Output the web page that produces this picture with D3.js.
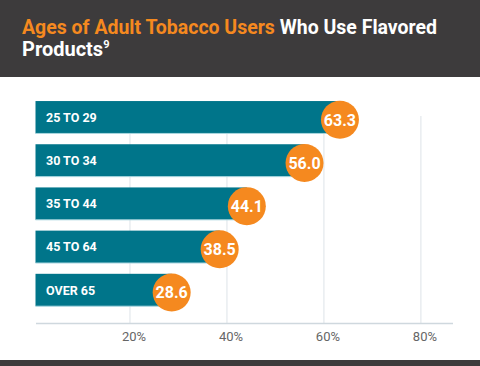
<!DOCTYPE html>
<html><head><meta charset="utf-8">
<script src="https://cdn.jsdelivr.net/npm/d3@7/dist/d3.min.js"></script>
<style>html,body{margin:0;padding:0;background:#fff;}svg{display:block;}</style>
</head><body>
<script>
const categories = ["25 TO 29", "30 TO 34", "35 TO 44", "45 TO 64", "OVER 65"];
const values = [63.3, 56.0, 44.1, 38.5, 28.6];
const tickValues = [20, 40, 60, 80];
const tickLabels = ["20%", "40%", "60%", "80%"];

const W = 480, H = 366;
const svg = d3.select("body").append("svg").attr("width", W).attr("height", H);
const font = "Roboto, 'Liberation Sans', sans-serif";

// header
svg.append("rect").attr("x",0).attr("y",0).attr("width",W).attr("height",77).attr("fill","#3d3b3c");
svg.append("rect").attr("x",0).attr("y",360).attr("width",W).attr("height",6).attr("fill","#3d3b3c");
const t1 = svg.append("text").attr("x",22).attr("y",33.5).attr("font-family",font).attr("font-weight","bold").attr("font-size",20)
  .attr("textLength",415).attr("lengthAdjust","spacingAndGlyphs");
t1.append("tspan").attr("fill","#f5891f").text("Ages of Adult Tobacco Users ");
t1.append("tspan").attr("fill","#ffffff").text("Who Use Flavored");
const t2 = svg.append("text").attr("x",22).attr("y",56).attr("font-family",font).attr("font-weight","bold").attr("font-size",20).attr("fill","#fff");
t2.append("tspan").text("Products");
t2.append("tspan").attr("font-size",11).attr("dy",-8).text("9");

const x = d3.scaleLinear().domain([0, 86]).range([33, 450]);
const y = d3.scaleBand().domain(categories).range([90.25, 317]).paddingInner(0.25).paddingOuter(0.25);

// gridlines
svg.append("g").selectAll("line").data(tickValues).join("line")
  .attr("x1", d=>x(d)).attr("x2", d=>x(d)).attr("y1",116).attr("y2",323.5)
  .attr("stroke","#dde3e8").attr("stroke-width",1);

// axis
const axis = d3.axisBottom(x).tickValues(tickValues).tickFormat((d,i)=>tickLabels[i]).tickSize(0).tickPadding(8);
const ag = svg.append("g").attr("transform","translate(3.5,323.5)").call(axis);
ag.select(".domain").remove();
ag.selectAll("text").attr("font-family",font).attr("font-size",13).attr("fill","#666");
svg.append("line").attr("x1",36).attr("x2",453).attr("y1",323.5).attr("y2",323.5).attr("stroke","#cfd8de").attr("stroke-width",1.5);

// bars
svg.append("g").selectAll("rect").data(categories).join("rect")
  .attr("x",35.5).attr("y",d=>y(d)).attr("height",y.bandwidth())
  .attr("width",(d,i)=>x(values[i])-35.5)
  .attr("fill","#00758a");
svg.append("g").selectAll("line").data(categories).join("line")
  .attr("x1",35.5).attr("x2",(d,i)=>x(values[i])).attr("y1",d=>y(d)+y.bandwidth()).attr("y2",d=>y(d)+y.bandwidth())
  .attr("stroke","#a9d6df").attr("stroke-width",1);
svg.append("g").selectAll("text").data(categories).join("text")
  .attr("x",46).attr("y",d=>y(d)+y.bandwidth()/2).attr("dy","0.36em")
  .attr("font-family",font).attr("font-weight","bold").attr("font-size",12.5).attr("fill","#fff")
  .text(d=>d);

// circles
svg.append("g").selectAll("circle").data(categories).join("circle")
  .attr("cx",(d,i)=>x(values[i])).attr("cy",d=>y(d)+y.bandwidth()/2+2.5).attr("r",19)
  .attr("fill","#f5891f");
svg.append("g").selectAll("text").data(categories).join("text")
  .attr("x",(d,i)=>x(values[i])).attr("y",d=>y(d)+y.bandwidth()/2+2.5).attr("dy","0.36em")
  .attr("text-anchor","middle")
  .attr("font-family",font).attr("font-weight","bold").attr("font-size",16).attr("fill","#fff")
  .text((d,i)=>values[i].toFixed(1));
</script>
</body></html>
